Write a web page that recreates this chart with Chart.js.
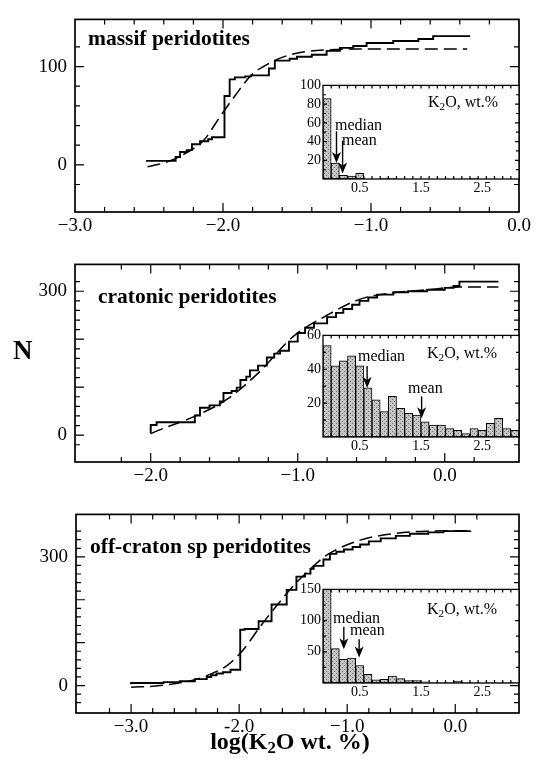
<!DOCTYPE html>
<html lang="en">
<head>
<meta charset="UTF-8">
<title>K2O in peridotites</title>
<script src="https://cdn.jsdelivr.net/npm/chart.js"></script>
<style>
  body { margin: 0; background: #fff; }
  #fig { position: relative; width: 537px; height: 764px; overflow: hidden; font-family: 'Liberation Serif', serif; color: #000; }
  #fig canvas { position: absolute; }
  .lbl { position: absolute; white-space: nowrap; line-height: 1; }
  .title { font-size: 21.5px; font-weight: bold; }
  .note { font-size: 16px; }
  sub { font-size: 0.7em; line-height: 0; vertical-align: -0.25em; }
</style>
</head>
<body>
<div id="fig">
  <canvas id="p1" width="537" height="240" style="left:0;top:0"></canvas>
  <canvas id="p2" width="537" height="245" style="left:0;top:245px"></canvas>
  <canvas id="p3" width="537" height="240" style="left:0;top:495px"></canvas>
  <canvas id="h1" width="247" height="124" style="left:290px;top:75px"></canvas>
  <canvas id="h2" width="247" height="133" style="left:290px;top:325px"></canvas>
  <canvas id="h3" width="247" height="125" style="left:290px;top:579px"></canvas>

  <div class="lbl title" style="left:88px;top:28px">massif peridotites</div>
  <div class="lbl title" style="left:98px;top:286px">cratonic peridotites</div>
  <div class="lbl title" style="left:90px;top:536px">off-craton sp peridotites</div>
  <div class="lbl" style="left:13px;top:337px;font-size:27px;font-weight:bold">N</div>
  <div class="lbl" style="left:140px;width:300px;text-align:center;top:729px;font-size:24px;font-weight:bold">log(K<sub>2</sub>O wt. %)</div>

  <div class="lbl note" style="left:428px;top:94px">K<sub>2</sub>O, wt.%</div>
  <div class="lbl note" style="left:335px;top:117px">median</div>
  <div class="lbl note" style="left:342px;top:132px">mean</div>

  <div class="lbl note" style="left:427px;top:345px">K<sub>2</sub>O, wt.%</div>
  <div class="lbl note" style="left:358px;top:348px">median</div>
  <div class="lbl note" style="left:408px;top:380px">mean</div>

  <div class="lbl note" style="left:427px;top:601px">K<sub>2</sub>O, wt.%</div>
  <div class="lbl note" style="left:333px;top:610px">median</div>
  <div class="lbl note" style="left:350px;top:622px">mean</div>
</div>

<script>
// cumulative number of samples vs log(K2O) -- step = data, fit = dashed curve
const MASSIF_STEP_X = [-2.52, -2.32, -2.29, -2.245, -2.21, -2.155, -2.10, -2.075, -1.99, -1.955, -1.92, -1.85, -1.81, -1.69, -1.65, -1.55, -1.50, -1.40, -1.30, -1.21, -1.12, -1.03, -0.85, -0.68, -0.58, -0.33];
const MASSIF_STEP_N = [4, 8, 13, 15, 21, 24, 26, 28, 70, 87, 89, 90, 91, 98, 106, 108, 110, 112, 116, 119, 121, 124, 126, 128, 131, 131];
const MASSIF_FIT_X = [-2.51, -2.45, -2.36, -2.25, -2.13, -2.02, -1.92, -1.81, -1.68, -1.57, -1.45, -1.30, -1.00, -0.35];
const MASSIF_FIT_N = [-2, 0, 4, 12, 25, 49, 70, 91, 104, 111, 115, 117, 118, 118];

const CRATON_STEP_X = [-2.0, -2.0, -1.96, -1.70, -1.665, -1.60, -1.53, -1.505, -1.45, -1.415, -1.39, -1.35, -1.325, -1.27, -1.21, -1.16, -1.12, -1.06, -1.00, -0.95, -0.89, -0.80, -0.74, -0.69, -0.63, -0.58, -0.52, -0.46, -0.35, -0.25, -0.12, 0.00, 0.06, 0.10, 0.365];
const CRATON_STEP_N = [4, 21, 27, 41, 57, 62, 70, 88, 92, 99, 115, 122, 135, 145, 162, 170, 176, 195, 213, 224, 233, 246, 255, 263, 272, 280, 287, 293, 298, 300, 303, 307, 311, 320, 320];
const CRATON_FIT_X = [-2.0, -1.94, -1.71, -1.48, -1.26, -1.03, -0.80, -0.58, -0.35, -0.12, 0.10, 0.365];
const CRATON_FIT_N = [3, 11, 38, 75, 132, 206, 250, 283, 297, 303, 309, 309];

const OFF_STEP_X = [-3.0, -3.0, -2.70, -2.55, -2.41, -2.30, -2.26, -2.21, -2.15, -2.08, -1.99, -1.95, -1.82, -1.70, -1.56, -1.47, -1.39, -1.34, -1.31, -1.22, -1.16, -1.10, -1.03, -0.95, -0.88, -0.80, -0.69, -0.55, -0.42, -0.25, -0.11, 0.14];
const OFF_STEP_N = [3, 6, 8, 10, 15, 20, 24, 28, 31, 37, 130, 132, 150, 189, 223, 254, 261, 272, 279, 294, 307, 312, 317, 323, 329, 336, 343, 349, 354, 357, 360, 361];
const OFF_FIT_X = [-3.0, -2.73, -2.42, -2.27, -2.11, -1.96, -1.81, -1.65, -1.50, -1.34, -1.19, -0.88, -0.57, -0.27, 0.14];
const OFF_FIT_N = [-4, 0, 13, 26, 47, 84, 136, 187, 232, 272, 304, 339, 354, 360, 361];

// inset histograms (K2O wt.%)
const HIST_BINS = ['-0.10', '0.03', '0.17', '0.30', '0.43', '0.57', '0.70', '0.83', '0.97', '1.10', '1.23', '1.37', '1.50', '1.63', '1.77', '1.90', '2.03', '2.17', '2.30', '2.43', '2.57', '2.70', '2.83', '2.97'];
const MASSIF_HIST = [86, 17, 4, 3, 6, 0, 0, 1, 1, 0, 0, 0, 0, 0, 0, 0, 0, 0, 1, 0, 0, 0, 0, 0];
const CRATON_HIST = [54, 42, 45, 48, 42, 29, 22, 15, 24, 17, 14, 13, 9, 7, 7, 5, 4, 2, 5, 4, 8, 11, 5, 4];
const OFF_HIST = [150, 55, 38, 40, 28, 14, 5, 6, 11, 7, 4, 4, 2, 1, 1, 1, 3, 1, 1, 0, 1, 1, 1, 1];
const INSET_X_LABELS = [0.5, 1.5, 2.5];
const MEDIAN_K2O = [0.12, 0.62, 0.24];
const MEAN_K2O = [0.22, 1.51, 0.49];

const SERIF = "'Liberation Serif', serif";

function pts(xs, ys) {
    return xs.map((x, i) => ({ x: x, y: ys[i] }));
}
function onStep(v, step) {
    const r = v / step;
    return Math.abs(r - Math.round(r)) < 1e-6;
}
function fmtLog(v) {
    return (v < 0 ? '\u2212' : '') + Math.abs(v).toFixed(1);
}

// frame + inward ticks on all four sides (+ arrows for the insets)
function frame(o) {
    return {
        id: 'frame',
        beforeDatasetsDraw(chart) {
            if (!o.white) return;
            const a = chart.chartArea, c = chart.ctx;
            c.save();
            c.fillStyle = '#fff';
            c.fillRect(a.left, a.top, a.width, a.height);
            c.restore();
        },
        afterDraw(chart) {
            const a = chart.chartArea, c = chart.ctx;
            const xs = chart.scales[o.xAxis], ys = chart.scales.y;
            c.save();
            c.strokeStyle = '#000';
            c.fillStyle = '#000';
            c.lineWidth = 1.2;
            c.beginPath();
            let xm = [];
            if (o.bins) {
                chart.getDatasetMeta(0).data.forEach(b => xm.push({ p: b.x - b.width / 2, big: false }));
            } else {
                xs.ticks.forEach(t => {
                    if (onStep(t.value, o.xMinor)) xm.push({ p: xs.getPixelForValue(t.value), big: onStep(t.value, o.xMajor) });
                });
            }
            xm.forEach(t => {
                if (t.p < a.left + 1 || t.p > a.right - 1) return;
                const len = t.big ? o.big : o.small;
                c.moveTo(t.p, a.bottom); c.lineTo(t.p, a.bottom - len);
                c.moveTo(t.p, a.top); c.lineTo(t.p, a.top + len);
            });
            ys.ticks.forEach(t => {
                if (!onStep(t.value, o.yMinor)) return;
                const p = ys.getPixelForValue(t.value);
                if (p < a.top + 1 || p > a.bottom - 1) return;
                const len = onStep(t.value, o.yMajor) ? o.big : o.small;
                c.moveTo(a.left, p); c.lineTo(a.left + len, p);
                c.moveTo(a.right, p); c.lineTo(a.right - len, p);
            });
            c.stroke();
            c.lineWidth = o.lw;
            c.strokeRect(a.left, a.top, a.width, a.height);

            (o.arrows || []).forEach(ar => {
                const px = xs.getPixelForValue(ar.x);
                const y1 = ys.getPixelForValue(ar.from), y2 = ys.getPixelForValue(ar.to);
                c.lineWidth = 1.4;
                c.beginPath();
                c.moveTo(px, y1); c.lineTo(px, y2 - 6);
                c.stroke();
                c.beginPath();
                c.moveTo(px, y2);
                c.lineTo(px - 4.5, y2 - 11);
                c.lineTo(px, y2 - 8);
                c.lineTo(px + 4.5, y2 - 11);
                c.closePath();
                c.fill();
            });
            c.restore();
        }
    };
}

function mainChart(id, cfg) {
    return new Chart(document.getElementById(id), {
        type: 'line',
        data: {
            datasets: [
                { data: pts(cfg.stepX, cfg.stepN), stepped: true, borderColor: '#000', borderWidth: 1.9, pointRadius: 0, fill: false },
                { data: pts(cfg.fitX, cfg.fitN), borderColor: '#000', borderWidth: 1.5, borderDash: [13, 6], pointRadius: 0, fill: false, cubicInterpolationMode: 'monotone' }
            ]
        },
        options: {
            responsive: false,
            animation: false,
            events: [],
            layout: { padding: { top: cfg.top, right: 18, left: 0, bottom: 0 } },
            plugins: { legend: { display: false }, tooltip: { enabled: false } },
            scales: {
                x: {
                    type: 'linear', min: cfg.xMin, max: cfg.xMax, offset: false,
                    grid: { display: false, drawTicks: false }, border: { display: false },
                    afterFit: s => { s.height = cfg.xh; },
                    ticks: {
                        stepSize: 0.2, autoSkip: false, maxRotation: 0, padding: 3, color: '#000',
                        font: { family: SERIF, size: 19 },
                        callback: v => onStep(v, 1) ? (cfg.fmt || fmtLog)(v) : ''
                    }
                },
                y: {
                    type: 'linear', min: cfg.yMin, max: cfg.yMax,
                    grid: { display: false, drawTicks: false }, border: { display: false },
                    afterFit: s => { s.width = cfg.left; },
                    ticks: {
                        stepSize: 20, autoSkip: false, padding: 8, color: '#000',
                        font: { family: SERIF, size: 19 },
                        callback: v => cfg.yLabels.includes(v) ? String(v) : ''
                    }
                }
            }
        },
        plugins: [frame({ xAxis: 'x', xMinor: 0.2, xMajor: 1, yMinor: 20, yMajor: 100, big: 9, small: 5, lw: 1.7 })]
    });
}

function stipple() {
    const cv = document.createElement('canvas');
    cv.width = 4; cv.height = 4;
    const g = cv.getContext('2d');
    g.fillStyle = '#c4c4c4';
    g.fillRect(0, 0, 4, 4);
    g.fillStyle = '#6e6e6e';
    g.fillRect(0, 0, 1, 1);
    g.fillRect(2, 2, 1, 1);
    return g.createPattern(cv, 'repeat');
}
const STIPPLE = stipple();

function insetChart(id, cfg) {
    return new Chart(document.getElementById(id), {
        type: 'bar',
        data: {
            labels: HIST_BINS,
            datasets: [{
                data: cfg.counts, backgroundColor: STIPPLE, borderColor: '#000', borderWidth: 1,
                borderSkipped: false, categoryPercentage: 1, barPercentage: 1
            }]
        },
        options: {
            responsive: false,
            animation: false,
            events: [],
            layout: { padding: { top: 8, right: 18, left: 0, bottom: 0 } },
            plugins: { legend: { display: false }, tooltip: { enabled: false } },
            scales: {
                x: { type: 'category', display: false },
                xt: {
                    type: 'linear', position: 'bottom', min: -0.1, max: 3.1, offset: false,
                    grid: { display: false, drawTicks: false, offset: false }, border: { display: false },
                    afterBuildTicks: s => { s.ticks = INSET_X_LABELS.map(v => ({ value: v })); },
                    afterFit: s => { s.height = cfg.xh; },
                    ticks: { padding: 1, color: '#000', font: { family: SERIF, size: 14 }, callback: v => v.toFixed(1) }
                },
                y: {
                    type: 'linear', min: 0, max: cfg.yMax,
                    grid: { display: false, drawTicks: false }, border: { display: false },
                    afterFit: s => { s.width = 33; },
                    ticks: {
                        stepSize: cfg.yStep, autoSkip: false, padding: 2, color: '#000',
                        font: { family: SERIF, size: 14 },
                        callback: v => cfg.yLabels.includes(v) ? String(v) : ''
                    }
                }
            }
        },
        plugins: [frame({ xAxis: 'xt', bins: true, yMinor: cfg.yStep, yMajor: cfg.yMajor, big: 4, small: 3, lw: 1.3, white: true, arrows: cfg.arrows })]
    });
}

mainChart('p1', {
    stepX: MASSIF_STEP_X, stepN: MASSIF_STEP_N, fitX: MASSIF_FIT_X, fitN: MASSIF_FIT_N,
    xMin: -3, xMax: 0, yMin: -48, yMax: 148, yLabels: [0, 100], top: 9, xh: 28, left: 75
});
mainChart('p2', {
    stepX: CRATON_STEP_X, stepN: CRATON_STEP_N, fitX: CRATON_FIT_X, fitN: CRATON_FIT_N,
    xMin: -2.515, xMax: 0.505, yMin: -56, yMax: 356, yLabels: [0, 300], top: 12, xh: 28, left: 75
});
mainChart('p3', {
    stepX: OFF_STEP_X, stepN: OFF_STEP_N, fitX: OFF_FIT_X, fitN: OFF_FIT_N,
    xMin: -3.51, xMax: 0.59, yMin: -64, yMax: 399, yLabels: [0, 300], top: 10, xh: 22, left: 76,
    fmt: v => v === -2 ? '-2.0' : fmtLog(v)
});

insetChart('h1', {
    counts: MASSIF_HIST, yMax: 100, yStep: 10, yMajor: 20, yLabels: [20, 40, 60, 80, 100], xh: 20,
    arrows: [{ x: MEDIAN_K2O[0], from: 51, to: 17 }, { x: MEAN_K2O[0], from: 41, to: 6 }]
});
insetChart('h2', {
    counts: CRATON_HIST, yMax: 60, yStep: 10, yMajor: 20, yLabels: [20, 40, 60], xh: 21,
    arrows: [{ x: MEDIAN_K2O[1], from: 42, to: 29 }, { x: MEAN_K2O[1], from: 24, to: 11 }]
});
insetChart('h3', {
    counts: OFF_HIST, yMax: 150, yStep: 25, yMajor: 50, yLabels: [50, 100, 150], xh: 21,
    arrows: [{ x: MEDIAN_K2O[2], from: 90, to: 54 }, { x: MEAN_K2O[2], from: 70, to: 41 }]
});
</script>
</body>
</html>
